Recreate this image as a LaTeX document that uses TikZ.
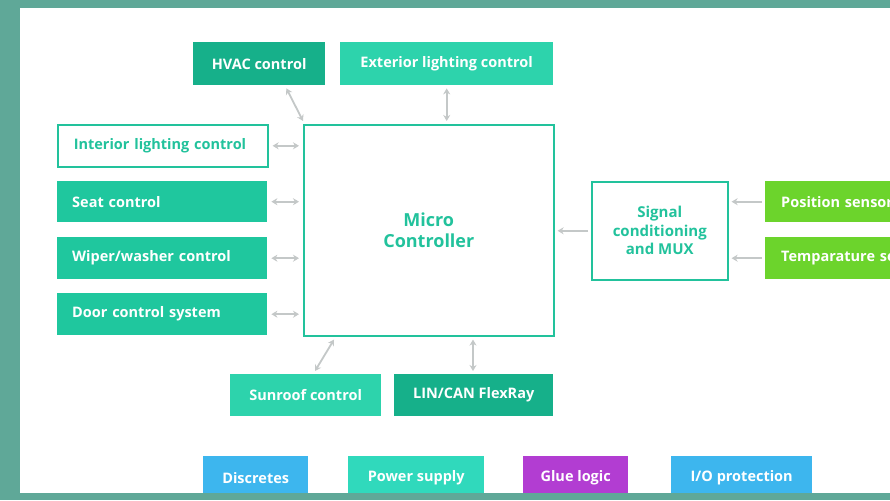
\documentclass[tikz,border=0pt]{standalone}
\usepackage{fontspec}
\setmainfont{Open Sans}
\usetikzlibrary{arrows.meta}
\definecolor{frame}{HTML}{5FA898}
\definecolor{tealA}{HTML}{16B08A}
\definecolor{tealB}{HTML}{2DD3AC}
\definecolor{tealC}{HTML}{1FC79E}
\definecolor{tealT}{HTML}{22C29C}
\definecolor{grn}{HTML}{6CD42C}
\definecolor{blu}{HTML}{3DB6EE}
\definecolor{pwr}{HTML}{30D9BC}
\definecolor{pur}{HTML}{B23DD2}
\definecolor{arr}{HTML}{C4C8C8}
\begin{document}
\begin{tikzpicture}[x=1pt,y=-1pt,
 f/.style={font=\bfseries\fontsize{14.5}{16}\selectfont},
 box/.style={f,draw=none,anchor=north west,inner sep=0pt,text=white},
 wbox/.style={f,anchor=north west,inner sep=0pt,draw=tealT,line width=1.6pt,fill=white,text=tealT},
 con/.style={arr,line width=1.8pt,{Stealth[length=6pt,width=7pt]}-{Stealth[length=6pt,width=7pt]}},
 one/.style={arr,line width=1.8pt,-{Stealth[length=6pt,width=7pt]}}]
\begin{scope}
\clip (0,0) rectangle (890,500);
\useasboundingbox (0,0) rectangle (890,500);
\fill[frame] (0,0) rectangle (890,500);
\fill[white] (20,8) rectangle (890,493);
% top
\node[box,fill=tealA,minimum width=132,minimum height=43] (hvac) at (193,42) {HVAC control};
\node[box,fill=tealB,minimum width=213,minimum height=43] (ext) at (340,42) {Exterior lighting control};
% left
\node[wbox,minimum width=210,minimum height=42,text width=194,align=left] (int) at (57,124) {\hspace*{8pt}Interior lighting control};
\node[box,fill=tealC,minimum width=210,minimum height=41,text width=196,align=left] (seat) at (57,181) {\hspace*{8pt}Seat control};
\node[box,fill=tealC,minimum width=210,minimum height=42,text width=196,align=left] (wiper) at (57,237) {\hspace*{8pt}Wiper/washer control};
\node[box,fill=tealC,minimum width=210,minimum height=42,text width=196,align=left] (door) at (57,293) {\hspace*{8pt}Door control system};
% center
\node[wbox,minimum width=250,minimum height=211,align=center,font=\bfseries\fontsize{18}{21}\selectfont] (mc) at (303,124) {Micro\\Controller};
\node[wbox,minimum width=136,minimum height=98,align=center,font=\bfseries\fontsize{15}{18.5}\selectfont] (sig) at (591,181) {Signal\\conditioning\\and MUX};
% right
\node[box,fill=grn,minimum width=200,minimum height=41,text width=190,align=left] (pos) at (765,181) {\hspace*{11pt}Position sensor};
\node[box,fill=grn,minimum width=200,minimum height=42,text width=190,align=left] (temp) at (765,237) {\hspace*{11pt}Temparature sensor};
% bottom
\node[box,fill=tealB,minimum width=151,minimum height=42] (sun) at (230,374) {Sunroof control};
\node[box,fill=tealA,minimum width=159,minimum height=42] (lin) at (394,374) {LIN/CAN FlexRay};
\node[box,fill=blu,minimum width=105,minimum height=44] (disc) at (203,456) {Discretes};
\node[box,fill=pwr,minimum width=136,minimum height=44] (pow) at (348,456) {Power supply};
\node[box,fill=pur,minimum width=105,minimum height=44] (glue) at (523,456) {Glue logic};
\node[box,fill=blu,minimum width=141,minimum height=44] (io) at (671,456) {I/O protection};
\fill[frame] (0,493) rectangle (890,500);
% connectors
\draw[con] ([xshift=-39pt,yshift=-3pt]hvac.south east) -- ([yshift=3pt]mc.north west);
\draw[con] ([yshift=-3pt]ext.south) -- ([yshift=3pt]mc.north -| ext.south);
\draw[con] ([xshift=4pt]int.east) -- ([xshift=-4pt]mc.west |- int.east);
\draw[con] ([xshift=4pt]seat.east) -- ([xshift=-4pt]mc.west |- seat.east);
\draw[con] ([xshift=4pt]wiper.east) -- ([xshift=-4pt]mc.west |- wiper.east);
\draw[con] ([xshift=4pt]door.east) -- ([xshift=-4pt]mc.west |- door.east);
\draw[con] ([xshift=85pt,yshift=3pt]sun.north west) -- ([xshift=31pt,yshift=-3pt]mc.south west);
\draw[con] ([xshift=79pt,yshift=3pt]lin.north west) -- ([xshift=170pt,yshift=-3pt]mc.south west);
\draw[one] ([xshift=-3pt]sig.west) -- ([xshift=3pt]mc.east |- sig.west);
\draw[one] ([xshift=-3pt]pos.west) -- ([xshift=3pt]sig.east |- pos.west);
\draw[one] ([xshift=-3pt]temp.west) -- ([xshift=3pt]sig.east |- temp.west);
\end{scope}
\end{tikzpicture}
\end{document}
